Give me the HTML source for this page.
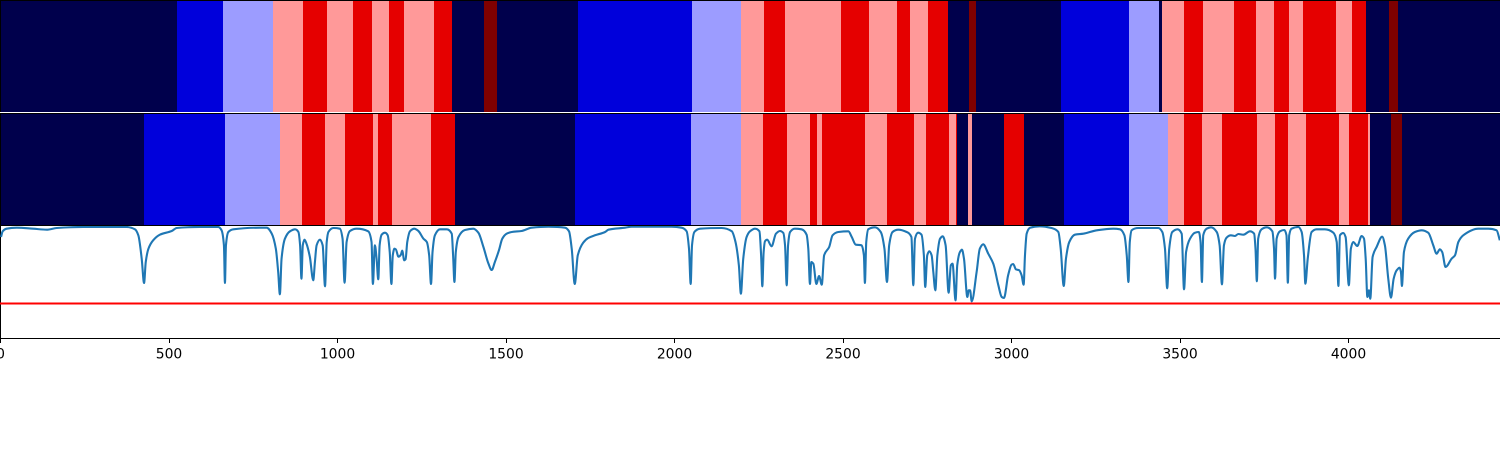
<!DOCTYPE html>
<html lang="en">
<head>
<meta charset="utf-8">
<title>Sequence segmentation chart</title>
<style>
html,body{margin:0;padding:0;background:#fff;width:1500px;height:450px;overflow:hidden}
svg{display:block}
text{font-family:"DejaVu Sans","Liberation Sans",sans-serif;font-size:13.9px;fill:#000}
</style>
</head>
<body>
<svg id="chart" xmlns="http://www.w3.org/2000/svg" width="1500" height="450" viewBox="0 0 1500 450" shape-rendering="auto">
  <rect x="0" y="0" width="1500" height="450" fill="#ffffff"/>
  <g id="heatmap-top"></g>
  <g id="heatmap-bottom"></g>
  <g id="spines"></g>
  <defs><clipPath id="line-clip"><rect x="0" y="226" width="1500" height="112"/></clipPath></defs>
  <g id="line-panel" clip-path="url(#line-clip)"></g>
  <g id="x-axis"></g>
</svg>
<script>
// Heatmap data: the position where each segment ends, and its level
const topEnds = [525,662,810,899,970,1047,1104,1154,1199,1288,1341,1436,1475,1715,2053,2199,2267,2329,2495,2578,2661,2700,2753,2813,2875,2896,3148,3350,3439,3448,3513,3569,3661,3727,3780,3824,3866,3964,4011,4053,4121,4148,4451];
const topLevels = [0,1,2,3,4,3,4,3,4,3,4,0,5,0,1,2,3,4,3,4,3,4,3,4,0,5,0,1,2,0,3,4,3,4,3,4,3,4,3,4,0,5,0];
const bottomEnds = [427,668,831,896,964,1024,1107,1122,1163,1279,1350,1706,2050,2199,2264,2335,2403,2424,2439,2566,2632,2712,2747,2816,2836,2839,2872,2884,2979,3038,3157,3350,3465,3513,3566,3626,3730,3783,3821,3875,3973,4003,4059,4065,4127,4160,4451];
const bottomLevels = [0,1,2,3,4,3,4,3,4,3,4,0,1,2,3,4,3,4,3,4,3,4,3,4,3,4,0,3,0,4,0,1,2,3,4,3,4,3,4,3,4,3,4,3,0,5,0];

// Line series
const lineX = [1.5,6.4,18,48,97,137,167,246,374,399,409,419,426,431,439,453,473,508,523,592,646,656,663,666,669,676,691,770,790,805,817,824,829,834,844,859,874,884,889,893,897,902,908,918,928,933,938,948,956,963,968,973,988,1007,1015,1021,1027,1037,1057,1091,1101,1105,
1111,1116,1121,1125,1131,1141,1149,1155,1160,1164,1169,1173,1181,1188,1192,1198,1202,1207,1215,1228,1240,1255,1265,1272,1277.5,1282,1289,1304,1324,1339,1343,1347,1351,1359,1378,1403,1418,1433,1448,1457.5,1467,1479,1489,1502,1517,1546,1576,1626,1675,1687,1695,1704,1713,1729,1744,1764,1794,1804,1853,1873,1991,2021,2036,2043,2048,2052,2059,2076,2140,2170,2181,2191,2197,2204,2214,
2224,2239,2252,2257,2260.6,2264.5,2268.5,2275,2288,2301,2313,2323,2328,2333,2337,2343,2357,2377,2392,2397,2402,2406,2412,2421,2429,2437,2444,2459,2469,2486,2516,2526,2538,2555,2562,2565,2569,2575,2595,2612,2623,2630.5,2637,2647,2664,2689,2703,2708.6,2713.6,2723,2733,2740,2744,2750,2756,2763,2768,2774,2780,2788,2796,2804.5,2813.4,2820,2825,2834,2839,2847,2853,2859,2869,2873,2877,2882,2896.5,2906,2916,2931,2946,2961,2971,2977.6,2990,3000,3005,3013,3023,3030,3036,3040,3045,3055,3084,3119,3139,3146,3155,3161.6,3171.5,3188,3213,3253,3302,3322,3335,
3342,3347,3351,3356.5,3376,3435.6,3447.5,3455.4,3462,3468,3477,3493,3505,3512,3518,3529.6,3544.4,3556,3561,3565,3569,3579,3592,3609,3617.6,3624.5,3630.4,3638,3651,3663,3673,3688,3707.6,3720,3724,3728,3732,3742,3757,3774,3779,3782,3786.7,3796.6,3809.5,3816,3820,3824,3831,3851,3861,3868,3872,3879,3890.5,3905,3930,3955,3965,3970,3974.6,3984.5,3991.4,4001,4007,4014,4026,4039,4046,4051,4056,4060.6,4064.6,4071.5,4083.4,4100,4108,4118,4126,4134,4143,4151.6,4155.6,4158.5,4164.5,4177,4197,4217,4236.7,4251.5,4261.4,4271,4278,4288,4306,4316,4326,4340.5,4385,4415,4439.4,4449];
const lineY = [101,106.7,109.3,110.3,109.3,108.3,110,111,111,108.7,102.7,79.3,55,76,89.3,97.7,103.3,107,110,111,111,107.7,92.7,55,92.7,106,108.7,110.3,110.3,104.3,89.3,66,43.7,79.3,99.3,106.7,108.7,106,92.7,59.3,92.7,98.3,94.3,81,57.7,76,92.7,98.3,92.7,51.7,96,106,110,109.3,99.3,55.3,96,107,109.3,106.7,96,54,
92.7,79.3,58.7,92.7,103.3,105.3,102.7,86,54,82.7,89.3,88.7,81.3,83.3,87.3,77.7,78.7,96,106.7,109.3,107,99.3,96,82.7,54,86,102.7,108.7,108.7,104.3,82.7,56,86,101,108,109.3,105.3,91,74.3,68,76,87.7,99.3,104.3,106,107,110.3,111.3,110.3,106.7,89.3,54,82.7,95.3,100,102.7,106,108.3,110.3,111.3,111.3,110.3,106.7,89.3,54,92.7,106,109.3,110,106.7,96,72.7,44.3,79.3,101,
106.7,109.3,106.7,82.7,51.7,86,96.7,98.3,91.7,104.3,107,105,92.7,52.7,92.7,106,109.3,108.7,103.3,89.3,54,76,74.3,54,62,53.3,82.7,91,102.7,106,106.7,101,93.3,92.7,82.7,55,96,108.7,110.7,106,89.3,56,92.7,106,108.3,106,101,52.7,99.3,105.3,103.3,82.7,51,82.7,86.7,82.7,66,47.7,82.7,99.3,101.7,92.7,45.3,72.7,74.3,37.7,72.7,86,88.3,79.3,41,47.7,47.7,36.7,66,89.3,93.7,84.3,74.3,52.7,41,40,62.7,73.3,74,68.7,67.7,62.7,53.3,82.7,104.3,110.3,111.7,110,106,89.3,52,79.3,96,103.3,104.3,107.7,109.3,108.7,102.7,
82.7,56,96,107.7,110,110,106,89.3,49.7,89.3,106,108.7,104.3,48.7,86,99.3,105.3,106,96,56,102.7,109.3,110.7,106,92.7,53.7,92.7,100.3,102.7,102,104,103.3,106.7,104.3,89.3,56.7,99.3,108.7,110.7,106.7,89.3,59.3,99.3,106.7,108,102.7,55.3,102.7,109.3,111,106,82.7,54.3,79.3,106,108.7,108.7,105.3,96,52,102.7,105,101,52.7,89.3,96,92,102,99.3,79.3,41,47.7,39.3,81,91,101.3,92.7,59.3,40.3,59.3,67.7,70.3,66,52,86,99.3,106,107.7,105.3,92.7,84.3,88.7,86,71,79.3,82.7,96,102.7,109.3,109.3,107.7,97.7];
const thresholdValue = [34.5];

// Tick labels
const xTicks = [0,500,1000,1500,2000,2500,3000,3500,4000];

// Level colours
const levelColors = ['#00004c','#0000db','#9c9cff','#ff9999','#e50000','#7f0000'];

const SVGNS = 'http://www.w3.org/2000/svg';
function xScale(d){ return 0.5 + d * 0.337; }
function yScale(v){ return 338 - v; }

function drawHeatmap(groupId, ends, levels, top, height){
  const g = document.getElementById(groupId);
  let start = 0;
  ends.forEach(function(end, i){
    const x0 = i === 0 ? 0 : Math.floor(xScale(start));
    const x1 = i === ends.length - 1 ? 1500 : Math.floor(xScale(end));
    const r = document.createElementNS(SVGNS, 'rect');
    
    
    r.setAttribute('x', x0);
    r.setAttribute('y', top);
    r.setAttribute('width', Math.max(0, x1 - x0));
    r.setAttribute('height', height);
    r.setAttribute('fill', levelColors[levels[i]]);
    r.setAttribute('shape-rendering', 'crispEdges');
    g.appendChild(r);
    start = end;
  });
}
drawHeatmap('heatmap-top', topEnds, topLevels, 1, 111);
drawHeatmap('heatmap-bottom', bottomEnds, bottomLevels, 114, 111);

// Axes frame
const spineGroup = document.getElementById('spines');
function spine(name, x, y, w, h){
  const r = document.createElementNS(SVGNS, 'rect');
  
  
  r.setAttribute('x', x);
  r.setAttribute('y', y);
  r.setAttribute('width', w);
  r.setAttribute('height', h);
  r.setAttribute('fill', '#000');
  r.setAttribute('shape-rendering', 'crispEdges');
  spineGroup.appendChild(r);
}
spine('top-panel-top-spine', 0, 0, 1500, 1);
spine('top-panel-left-spine', 0, 0, 1, 112);
spine('bottom-panel-top-spine', 0, 113, 1500, 1);
spine('bottom-panel-left-spine', 0, 113, 1, 113);
spine('line-panel-top-spine', 0, 225, 1500, 1);
spine('line-panel-left-spine', 0, 225, 1, 114);
spine('line-panel-bottom-spine', 0, 338, 1500, 1);

// Monotone cubic curve through the scaled points, with no overshoot at the dips
function monotonePath(px, py){
  const n = px.length;
  const slopes = [];
  for (let i = 0; i < n - 1; i++) {
    slopes.push((py[i + 1] - py[i]) / (px[i + 1] - px[i]));
  }
  const tangents = [slopes[0]];
  for (let i = 1; i < n - 1; i++) {
    if (slopes[i - 1] * slopes[i] <= 0) {
      tangents.push(0);
    } else {
      const a = px[i] - px[i - 1];
      const b = px[i + 1] - px[i];
      tangents.push(3 * (a + b) / ((2 * b + a) / slopes[i - 1] + (b + 2 * a) / slopes[i]));
    }
  }
  tangents.push(slopes[n - 2]);
  let d = 'M' + px[0].toFixed(2) + ' ' + py[0].toFixed(2);
  for (let i = 0; i < n - 1; i++) {
    const h = (px[i + 1] - px[i]) / 3;
    d += 'C' + (px[i] + h).toFixed(2) + ' ' + (py[i] + h * tangents[i]).toFixed(2) + ' ' +
         (px[i + 1] - h).toFixed(2) + ' ' + (py[i + 1] - h * tangents[i + 1]).toFixed(2) + ' ' +
         px[i + 1].toFixed(2) + ' ' + py[i + 1].toFixed(2);
  }
  return d;
}

// Line panel
const linePanel = document.getElementById('line-panel');
const seriesPath = document.createElementNS(SVGNS, 'path');


seriesPath.setAttribute('fill', 'none');
seriesPath.setAttribute('stroke', '#1f77b4');
seriesPath.setAttribute('stroke-width', '2.1');
seriesPath.setAttribute('stroke-linejoin', 'round');
seriesPath.setAttribute('d', monotonePath(lineX.map(xScale), lineY.map(yScale)));
linePanel.appendChild(seriesPath);

const thresholdLine = document.createElementNS(SVGNS, 'line');


thresholdLine.setAttribute('x1', 0);
thresholdLine.setAttribute('x2', 1500);
thresholdLine.setAttribute('y1', yScale(thresholdValue[0]));
thresholdLine.setAttribute('y2', yScale(thresholdValue[0]));
thresholdLine.setAttribute('stroke', '#ff0000');
thresholdLine.setAttribute('stroke-width', '2');
linePanel.appendChild(thresholdLine);

// X axis
const xAxis = document.getElementById('x-axis');
xTicks.forEach(function(t){
  const px = Math.floor(xScale(t)) + 0.5;
  const tick = document.createElementNS(SVGNS, 'line');
  
  
  tick.setAttribute('x1', px);
  tick.setAttribute('x2', px);
  tick.setAttribute('y1', 339);
  tick.setAttribute('y2', 343);
  tick.setAttribute('stroke', '#000');
  tick.setAttribute('stroke-width', '1');
  tick.setAttribute('shape-rendering', 'crispEdges');
  xAxis.appendChild(tick);
  const label = document.createElementNS(SVGNS, 'text');
  
  
  label.setAttribute('x', xScale(t));
  label.setAttribute('y', 358.5);
  label.setAttribute('text-anchor', 'middle');
  label.textContent = String(t);
  xAxis.appendChild(label);
});
</script>
</body>
</html>
